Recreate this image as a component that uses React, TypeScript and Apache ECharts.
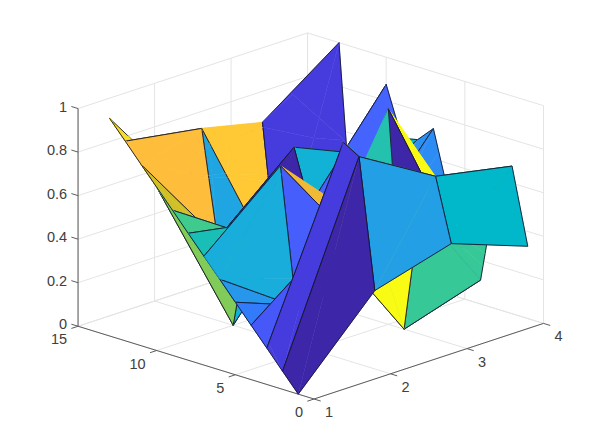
import React, { useEffect, useRef } from "react";
import * as echarts from "echarts";

const xValues = [1, 2, 3, 4];
const yValues = [1, 2, 3, 4, 5, 6, 7, 8, 9, 10, 11, 12, 13];
const zCol1 = [0, 0.083, 0.167, 0.25, 0.333, 0.417, 0.5, 0.583, 0.667, 0.75, 0.833, 0.917, 1];
const zCol2 = [0.36, 0.953, 0.996, 0.52, 0.2, 0.175, 0.8, 0.52, 0.437, 0.0, 0.375, 0.86, 0.55];
const zCol3 = [0.46, 0.747, 0.57, 0.0, 0.99, 0.3, 0.325, 0.478, 0.2, 0.434, 0.68, 0.08, 0.75];
const zCol4 = [0.332, 0.678, 0.555, 0.11, 0.19, 0.45, 0.739, 0.666, 0.65, 0.875, 0.53, 0.02, 1.0];
const zColumns = [zCol1, zCol2, zCol3, zCol4];

const xTicks = [1, 2, 3, 4];
const yTicks = [0, 5, 10, 15];
const zTicks = [0, 0.2, 0.4, 0.6, 0.8, 1];
const xMin = 1, xMax = 4, yMin = 0, yMax = 15, zMin = 0, zMax = 1;

const parula = [
  [0.2422, 0.1504, 0.6603], [0.2504, 0.165, 0.7076], [0.2578, 0.1818, 0.7511], [0.2647, 0.1978, 0.7952],
  [0.2706, 0.2147, 0.8364], [0.2751, 0.2342, 0.871], [0.2783, 0.2559, 0.8991], [0.2803, 0.2782, 0.9221],
  [0.2813, 0.3006, 0.9414], [0.281, 0.3228, 0.9579], [0.2795, 0.3447, 0.9717], [0.276, 0.3667, 0.9829],
  [0.2699, 0.3892, 0.9906], [0.2602, 0.4123, 0.9952], [0.244, 0.4358, 0.9988], [0.2206, 0.4603, 0.9973],
  [0.1963, 0.4847, 0.9892], [0.1834, 0.5074, 0.9798], [0.1786, 0.5289, 0.9682], [0.1764, 0.5499, 0.952],
  [0.1687, 0.5703, 0.9359], [0.154, 0.5902, 0.9218], [0.146, 0.6091, 0.9079], [0.138, 0.6276, 0.8973],
  [0.1248, 0.6459, 0.8883], [0.1113, 0.6635, 0.8763], [0.0952, 0.6798, 0.8598], [0.0689, 0.6948, 0.8394],
  [0.0297, 0.7082, 0.8163], [0.0036, 0.7203, 0.7917], [0.0067, 0.7312, 0.766], [0.0433, 0.7411, 0.7394],
  [0.0964, 0.75, 0.712], [0.1408, 0.7584, 0.6842], [0.1717, 0.767, 0.6554], [0.1938, 0.7758, 0.6251],
  [0.2161, 0.7843, 0.5923], [0.247, 0.7918, 0.5567], [0.2906, 0.7973, 0.5188], [0.3406, 0.8008, 0.4789],
  [0.3909, 0.8029, 0.4354], [0.4456, 0.8024, 0.3909], [0.5044, 0.7993, 0.348], [0.5616, 0.7942, 0.3045],
  [0.6174, 0.7876, 0.2612], [0.672, 0.7793, 0.2227], [0.7242, 0.7698, 0.191], [0.7738, 0.7598, 0.1646],
  [0.8203, 0.7498, 0.1535], [0.8634, 0.7406, 0.1596], [0.9035, 0.733, 0.1774], [0.9393, 0.7288, 0.21],
  [0.9728, 0.7298, 0.2394], [0.9956, 0.7434, 0.2371], [0.997, 0.7659, 0.2199], [0.9952, 0.7893, 0.2028],
  [0.9892, 0.8136, 0.1885], [0.9786, 0.8386, 0.1766], [0.9676, 0.8639, 0.1643], [0.961, 0.889, 0.1537],
  [0.9597, 0.9135, 0.1423], [0.9628, 0.9373, 0.1265], [0.9691, 0.9606, 0.1064], [0.9769, 0.9839, 0.0805],
];

function colorOf(z: number) {
  const idx = Math.min(63, Math.max(0, Math.floor(z * 64)));
  const c = parula[idx];
  return `rgb(${Math.round(c[0] * 255)},${Math.round(c[1] * 255)},${Math.round(c[2] * 255)})`;
}

// Orthographic view of the 3D axes
const R1 = [76.5, -15.73, 0];
const R2 = [-25.2, -4.85, -217.7];
const U0 = 314 - R1[0] * xMin;
const V0 = 399 - R2[0] * xMin;
function project(p: number[]) {
  return [U0 + R1[0] * p[0] + R1[1] * p[1] + R1[2] * p[2], V0 + R2[0] * p[0] + R2[1] * p[1] + R2[2] * p[2]];
}
const sub = (a: number[], b: number[]) => [a[0] - b[0], a[1] - b[1], a[2] - b[2]];
const dot = (a: number[], b: number[]) => a[0] * b[0] + a[1] * b[1] + a[2] * b[2];
const cross = (a: number[], b: number[]) => [
  a[1] * b[2] - a[2] * b[1],
  a[2] * b[0] - a[0] * b[2],
  a[0] * b[1] - a[1] * b[0],
];
const viewDir = cross(R1, R2); // points away from the viewer

type Poly = { v: number[][]; e: boolean[]; color: string };

function buildTriangles(): Poly[] {
  const out: Poly[] = [];
  for (let i = 0; i < yValues.length - 1; i++) {
    for (let j = 0; j < xValues.length - 1; j++) {
      const pt = (jj: number, ii: number) => [xValues[jj], yValues[ii], zColumns[jj][ii]];
      const A = pt(j, i), B = pt(j, i + 1), C = pt(j + 1, i + 1), D = pt(j + 1, i);
      const color = colorOf(A[2]);
      out.push({ v: [A, B, C], e: [true, true, false], color });
      out.push({ v: [A, C, D], e: [false, true, true], color });
    }
  }
  return out;
}

const EPS = 1e-7;
function splitPoly(p: Poly, n: number[], d: number) {
  const f: number[][] = [], fe: boolean[] = [], b: number[][] = [], be: boolean[] = [];
  const m = p.v.length;
  const dist = p.v.map((q) => dot(n, q) - d);
  for (let i = 0; i < m; i++) {
    const k = (i + 1) % m;
    const a = p.v[i], c = p.v[k], da = dist[i], dc = dist[k];
    const aF = da > EPS, aB = da < -EPS, cF = dc > EPS, cB = dc < -EPS;
    if (!aB) { f.push(a); fe.push(p.e[i] && !cB); }
    if (!aF) { b.push(a); be.push(p.e[i] && !cF); }
    if ((aF && cB) || (aB && cF)) {
      const t = da / (da - dc);
      const x = [a[0] + (c[0] - a[0]) * t, a[1] + (c[1] - a[1]) * t, a[2] + (c[2] - a[2]) * t];
      if (aF) {
        fe[fe.length - 1] = p.e[i];
        f.push(x); fe.push(false);
        b.push(x); be.push(p.e[i]);
      } else {
        be[be.length - 1] = p.e[i];
        b.push(x); be.push(false);
        f.push(x); fe.push(p.e[i]);
      }
    }
  }
  return {
    front: f.length >= 3 ? ({ v: f, e: fe, color: p.color } as Poly) : null,
    back: b.length >= 3 ? ({ v: b, e: be, color: p.color } as Poly) : null,
  };
}

function orderPolys(list: Poly[]): Poly[] {
  if (!list.length) return [];
  const head = list[0];
  const n = cross(sub(head.v[1], head.v[0]), sub(head.v[2], head.v[0]));
  const len = Math.sqrt(dot(n, n)) || 1;
  const nn = [n[0] / len, n[1] / len, n[2] / len];
  const d = dot(nn, head.v[0]);
  const front: Poly[] = [], back: Poly[] = [], same: Poly[] = [head];
  for (let i = 1; i < list.length; i++) {
    const p = list[i];
    const ds = p.v.map((q) => dot(nn, q) - d);
    const hasF = ds.some((x) => x > EPS), hasB = ds.some((x) => x < -EPS);
    if (!hasF && !hasB) same.push(p);
    else if (!hasB) front.push(p);
    else if (!hasF) back.push(p);
    else {
      const s = splitPoly(p, nn, d);
      if (s.front) front.push(s.front);
      if (s.back) back.push(s.back);
    }
  }
  const F = orderPolys(front), B = orderPolys(back);
  return dot(nn, viewDir) > 0 ? [...F, ...same, ...B] : [...B, ...same, ...F];
}

const fragments = orderPolys(buildTriangles());

type Seg = { a: number[]; b: number[]; kind: "grid" | "axis" };
function buildSegments(): Seg[] {
  const s: Seg[] = [];
  const g = (a: number[], b: number[]) => s.push({ a, b, kind: "grid" });
  zTicks.forEach((z) => {
    g([xMin, yMax, z], [xMax, yMax, z]);
    g([xMax, yMax, z], [xMax, yMin, z]);
  });
  xTicks.forEach((x) => {
    g([x, yMax, zMin], [x, yMax, zMax]);
    g([x, yMax, zMin], [x, yMin, zMin]);
  });
  yTicks.forEach((y) => {
    g([xMax, y, zMin], [xMax, y, zMax]);
    g([xMin, y, zMin], [xMax, y, zMin]);
  });
  const a = (p: number[], q: number[]) => s.push({ a: p, b: q, kind: "axis" });
  a([xMin, yMin, zMin], [xMax, yMin, zMin]);
  a([xMin, yMin, zMin], [xMin, yMax, zMin]);
  a([xMin, yMax, zMin], [xMin, yMax, zMax]);
  return s;
}
const segments = buildSegments();

const labels: { text: string; p: number[]; dx: number; dy: number; align: string }[] = [
  ...xTicks.map((x) => ({ text: String(x), p: [x, yMin, zMin], dx: 15, dy: 13, align: "center" })),
  ...yTicks.map((y) => ({ text: String(y), p: [xMin, y, zMin], dx: -11, dy: 13, align: "right" })),
  ...zTicks.map((z) => ({ text: String(z), p: [xMin, yMax, z], dx: -11, dy: -2, align: "right" })),
];

const tickLen = 7;
function tickEnd(dir: number[], start: number[]) {
  const l = Math.hypot(dir[0], dir[1]);
  return [start[0] + (dir[0] / l) * tickLen, start[1] + (dir[1] / l) * tickLen];
}
const ticks: { from: number[]; to: number[] }[] = [
  ...xTicks.map((x) => {
    const s = project([x, yMin, zMin]);
    return { from: s, to: tickEnd([-R1[1], -R2[1]], s) };
  }),
  ...yTicks.map((y) => {
    const s = project([xMin, y, zMin]);
    return { from: s, to: tickEnd([-R1[0], -R2[0]], s) };
  }),
  ...zTicks.map((z) => {
    const s = project([xMin, yMax, z]);
    return { from: s, to: tickEnd([R1[1], R2[1]], s) };
  }),
];

const GRID = "#e4e4e4";
const AXIS = "#5c5c5c";
const EDGE = "#14162e";

export default function App() {
  const ref = useRef<HTMLDivElement>(null);
  useEffect(() => {
    document.body.style.margin = "0";
    document.body.style.background = "#fff";
    const chart = echarts.init(ref.current!, undefined, { renderer: "svg" });
    chart.setOption({
      animation: false,
      backgroundColor: "#ffffff",
      grid: { left: 0, right: 0, top: 0, bottom: 0 },
      xAxis: { type: "value", min: 0, max: 600, show: false },
      yAxis: { type: "value", min: 0, max: 448, inverse: true, show: false },
      series: [
        {
          type: "custom",
          coordinateSystem: "cartesian2d",
          clip: false,
          silent: true,
          z: 1,
          data: segments.map((_, i) => [i]),
          renderItem: (params: any, api: any) => {
            const s = segments[params.dataIndex];
            const a = api.coord(project(s.a));
            const b = api.coord(project(s.b));
            return {
              type: "line",
              shape: { x1: a[0], y1: a[1], x2: b[0], y2: b[1] },
              style: { stroke: s.kind === "grid" ? GRID : AXIS, lineWidth: 1 },
              z2: s.kind === "grid" ? 1 : 2,
            };
          },
        },
        {
          type: "custom",
          coordinateSystem: "cartesian2d",
          clip: false,
          silent: true,
          z: 2,
          data: ticks.map((_, i) => [i]),
          renderItem: (params: any, api: any) => {
            const t = ticks[params.dataIndex];
            const a = api.coord(t.from);
            const b = api.coord(t.to);
            return {
              type: "line",
              shape: { x1: a[0], y1: a[1], x2: b[0], y2: b[1] },
              style: { stroke: AXIS, lineWidth: 1 },
            };
          },
        },
        {
          type: "custom",
          coordinateSystem: "cartesian2d",
          clip: false,
          silent: true,
          z: 3,
          data: fragments.map((_, i) => [i]),
          renderItem: (params: any, api: any) => {
            const f = fragments[params.dataIndex];
            const pts = f.v.map((q) => api.coord(project(q)));
            const children: any[] = [
              {
                type: "polygon",
                shape: { points: pts },
                style: { fill: f.color, stroke: f.color, lineWidth: 0.5 },
              },
            ];
            pts.forEach((p: number[], i: number) => {
              if (!f.e[i]) return;
              const q = pts[(i + 1) % pts.length];
              children.push({
                type: "line",
                shape: { x1: p[0], y1: p[1], x2: q[0], y2: q[1] },
                style: { stroke: EDGE, lineWidth: 0.9 },
              });
            });
            return { type: "group", children };
          },
        },
        {
          type: "custom",
          coordinateSystem: "cartesian2d",
          clip: false,
          silent: true,
          z: 4,
          data: labels.map((_, i) => [i]),
          renderItem: (params: any, api: any) => {
            const l = labels[params.dataIndex];
            const c = api.coord(project(l.p));
            return {
              type: "text",
              x: c[0] + l.dx,
              y: c[1] + l.dy,
              style: {
                text: l.text,
                fill: "#404040",
                font: '14.5px "Liberation Sans", Arial, sans-serif',
                textAlign: l.align,
                textVerticalAlign: "middle",
              },
            };
          },
        },
      ],
    });
    return () => chart.dispose();
  }, []);
  return <div ref={ref} style={{ width: 600, height: 448 }} />;
}
